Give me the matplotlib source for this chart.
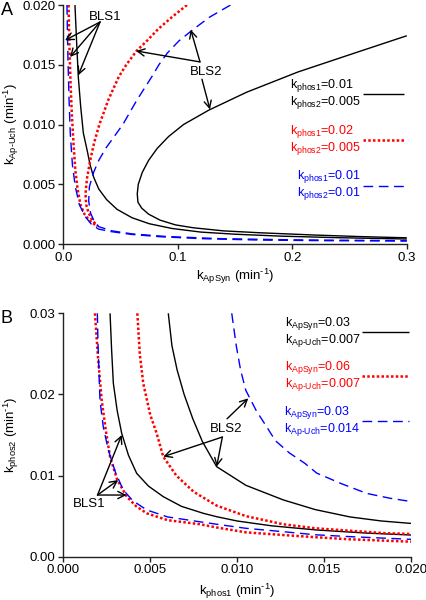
import matplotlib
matplotlib.use("Agg")
import matplotlib.pyplot as plt

plt.rcParams['font.family'] = ['Liberation Sans', 'DejaVu Sans']
plt.rcParams['mathtext.fontset'] = 'custom'
plt.rcParams['mathtext.rm'] = 'Liberation Sans'
plt.rcParams['mathtext.it'] = 'Liberation Sans:italic'
plt.rcParams['mathtext.bf'] = 'Liberation Sans:bold'
plt.rcParams['mathtext.sf'] = 'Liberation Sans'

# ---------------- Panel A data (x = kApSyn, y = kAp-Uch) ----------------
a_black_bls1_x = [0.0102, 0.0116, 0.0131, 0.0152, 0.0175, 0.0207, 0.0235, 0.0265, 0.0310, 0.0380,
                  0.0470, 0.0600, 0.0750, 0.0950, 0.1200, 0.1500, 0.1900, 0.2400, 0.3000]
a_black_bls1_y = [0.0200, 0.0170, 0.0140, 0.0115, 0.0093, 0.0079, 0.0066, 0.0056, 0.0046, 0.0037,
                  0.0029, 0.0022, 0.0017, 0.0013, 0.0010, 0.00082, 0.00066, 0.00053, 0.00042]
a_black_bls2_x = [0.300, 0.255, 0.205, 0.160, 0.127, 0.105, 0.092, 0.082, 0.0745, 0.0690, 0.0655,
                  0.0646, 0.0652, 0.0685, 0.0745, 0.0845, 0.0980, 0.1135, 0.1400, 0.1720, 0.2200,
                  0.2600, 0.3000]
a_black_bls2_y = [0.01743, 0.0160, 0.0144, 0.0127, 0.0112, 0.0100, 0.0090, 0.0080, 0.0070, 0.0060,
                  0.0050, 0.0042, 0.0035, 0.0030, 0.0025, 0.0020, 0.0016, 0.00136, 0.0011, 0.00094,
                  0.00075, 0.00062, 0.00052]
a_red_bls1_x = [0.0046, 0.0050, 0.0056, 0.0064, 0.0075, 0.0090, 0.0105, 0.0125, 0.0150, 0.0185,
                0.0225, 0.0265, 0.0300]
a_red_bls1_y = [0.0200, 0.0180, 0.0158, 0.0133, 0.0108, 0.0083, 0.0062, 0.0046, 0.0033, 0.0025,
                0.0020, 0.0017, 0.0015]
a_red_bls2_x = [0.1080, 0.0950, 0.0830, 0.0730, 0.0643, 0.0550, 0.0485, 0.0395, 0.0315, 0.0270,
                0.0235, 0.0207, 0.0194, 0.0200, 0.0221, 0.0260, 0.0300]
a_red_bls2_y = [0.0200, 0.0190, 0.0180, 0.0170, 0.0162, 0.0150, 0.0140, 0.0121, 0.0100, 0.0085,
                0.0070, 0.0055, 0.0042, 0.0033, 0.0026, 0.0019, 0.0015]
a_blue_bls1_x = [0.0032, 0.0036, 0.0041, 0.0050, 0.0061, 0.0080, 0.0105, 0.0140, 0.0192, 0.0250,
                 0.0308, 0.0410, 0.0600, 0.0846, 0.1200, 0.1720, 0.2300, 0.3000]
a_blue_bls1_y = [0.0200, 0.0178, 0.0154, 0.0122, 0.00926, 0.0066, 0.0048, 0.0033, 0.00229, 0.0016,
                 0.00125, 0.00105, 0.0008, 0.00061, 0.00045, 0.00033, 0.00028, 0.00025]
a_blue_bls2_x = [0.1460, 0.1280, 0.1140, 0.1010, 0.0910, 0.0835, 0.0773, 0.0640, 0.0520, 0.0370,
                 0.0310, 0.0265, 0.0228, 0.0222, 0.0238, 0.0270, 0.0310, 0.0425, 0.0600, 0.0900,
                 0.1370, 0.2000, 0.3000]
a_blue_bls2_y = [0.0200, 0.0190, 0.0180, 0.0170, 0.0160, 0.0150, 0.0140, 0.0120, 0.0100, 0.0080,
                 0.0070, 0.0060, 0.0048, 0.0036, 0.0026, 0.0019, 0.00145, 0.00110, 0.00085, 0.00063,
                 0.00045, 0.00035, 0.00028]

a_labels = ['k$_{\\mathrm{phos1}}$=0.01\nk$_{\\mathrm{phos2}}$=0.005',
            'k$_{\\mathrm{phos1}}$=0.02\nk$_{\\mathrm{phos2}}$=0.005',
            'k$_{\\mathrm{phos1}}$=0.01\nk$_{\\mathrm{phos2}}$=0.01']
a_xticks = [0.0, 0.1, 0.2, 0.3]
a_xticklabels = ['0.0', '0.1', '0.2', '0.3']
a_yticks = [0.000, 0.005, 0.010, 0.015, 0.020]
a_yticklabels = ['0.000', '0.005', '0.010', '0.015', '0.020']

# ---------------- Panel B data (x = kphos1, y = kphos2) ----------------
b_black_bls1_x = [0.00269, 0.00278, 0.00288, 0.00310, 0.00336, 0.00375, 0.00422, 0.00490, 0.00575,
                  0.00680, 0.00805, 0.00882, 0.01000, 0.01200, 0.01458, 0.01750, 0.02000]
b_black_bls1_y = [0.0300, 0.0255, 0.02137, 0.0180, 0.01521, 0.0125, 0.01028, 0.0087, 0.0074,
                  0.0062, 0.00535, 0.00493, 0.0044, 0.0038, 0.00329, 0.0029, 0.00267]
b_black_bls2_x = [0.00604, 0.00625, 0.00655, 0.00695, 0.00745, 0.00800, 0.00882, 0.01050, 0.01265,
                  0.01450, 0.01649, 0.01830, 0.02000]
b_black_bls2_y = [0.0300, 0.0260, 0.0230, 0.0200, 0.0170, 0.0142, 0.0111, 0.0088, 0.0070,
                  0.0058, 0.0049, 0.0044, 0.0041]
b_red_bls1_x = [0.00182, 0.00200, 0.00221, 0.00245, 0.00269, 0.00310, 0.00365, 0.00420, 0.00480,
                0.00600, 0.00786, 0.00882, 0.01050, 0.01265, 0.01450, 0.01649, 0.02000]
b_red_bls1_y = [0.0300, 0.0245, 0.0193, 0.0155, 0.01233, 0.0095, 0.0074, 0.0062, 0.00535,
                0.0045, 0.0040, 0.0036, 0.0030, 0.00267, 0.0024, 0.00214, 0.00185]
b_red_bls2_x = [0.00426, 0.00440, 0.00460, 0.00500, 0.00537, 0.00575, 0.00650, 0.00750, 0.00882,
                0.01050, 0.01265, 0.01450, 0.01649, 0.01850, 0.02000]
b_red_bls2_y = [0.0300, 0.0250, 0.02137, 0.0175, 0.01521, 0.01233, 0.0100, 0.0080, 0.0063,
                0.0050, 0.0040, 0.0035, 0.0032, 0.0029, 0.0028]
b_blue_bls1_x = [0.00196, 0.00200, 0.00211, 0.00230, 0.00259, 0.00300, 0.00345, 0.00400, 0.00480,
                 0.00600, 0.00786, 0.00882, 0.01050, 0.01265, 0.01450, 0.01649, 0.02000]
b_blue_bls1_y = [0.0300, 0.0260, 0.0193, 0.0160, 0.01315, 0.0104, 0.00822, 0.0069, 0.00576,
                 0.0049, 0.0043, 0.0040, 0.0035, 0.00308, 0.0027, 0.00247, 0.00214]
b_blue_bls2_x = [0.00969, 0.00995, 0.01020, 0.01050, 0.01110, 0.01170, 0.01220, 0.01300, 0.01390,
                 0.01458, 0.01600, 0.01745, 0.01880, 0.02000]
b_blue_bls2_y = [0.0300, 0.0260, 0.0230, 0.0205, 0.0180, 0.0160, 0.0143, 0.0128, 0.0115,
                 0.0103, 0.0090, 0.0078, 0.0072, 0.0068]

b_labels = ['k$_{\\mathrm{ApSyn}}$=0.03\nk$_{\\text{Ap-Uch}}$=0.007',
            'k$_{\\mathrm{ApSyn}}$=0.06\nk$_{\\text{Ap-Uch}}$=0.007',
            'k$_{\\mathrm{ApSyn}}$=0.03\nk$_{\\text{Ap-Uch}}$=0.014']
b_xticks = [0.000, 0.005, 0.010, 0.015, 0.020]
b_xticklabels = ['0.000', '0.005', '0.010', '0.015', '0.020']
b_yticks = [0.00, 0.01, 0.02, 0.03]
b_yticklabels = ['0.00', '0.01', '0.02', '0.03']

# ---------------- annotations (label text, tail, heads) ----------------
a_bls1_text = (0.0365, 0.0190)
a_bls1_tail = (0.0321, 0.01858)
a_bls1_heads = [(0.0015, 0.01705), (0.0059, 0.01565), (0.0131, 0.01412)]
a_bls2_text = (0.1250, 0.01440)
a_bls2_tail = (0.1194, 0.01524)
a_bls2_heads = [(0.0635, 0.01616), (0.1113, 0.01794)]
a_bls2_tail2 = (0.1211, 0.01379)
a_bls2_head2 = (0.1281, 0.01126)

b_bls1_text = (0.00148, 0.0065)
b_bls1_tail = (0.00197, 0.0076)
b_bls1_heads = [(0.00336, 0.0150), (0.00316, 0.00945), (0.00364, 0.0076)]
b_bls2_text = (0.00936, 0.01574)
b_bls2_tail_up = (0.00942, 0.0170)
b_bls2_head_up = (0.01064, 0.01952)
b_bls2_tail = (0.00915, 0.01475)
b_bls2_heads = [(0.00575, 0.01233), (0.00882, 0.01109)]

BLACK = '#000000'
RED = '#ff0000'
BLUE = '#0000ff'
FS = 9.5
LFS = 9.0

fig = plt.figure(figsize=(4.27, 6.0), dpi=100)
axA = fig.add_axes([0.1482, 0.5933, 0.8045, 0.3983])
axB = fig.add_axes([0.1482, 0.0722, 0.8143, 0.4056])

kw_black = dict(color=BLACK, lw=1.0, solid_capstyle='butt')
kw_red = dict(color=RED, lw=1.8, linestyle=(0, (1, 0.9)))
kw_blue = dict(color=BLUE, lw=1.0, linestyle=(0, (7, 4)))


def style(ax):
    for s in ['top', 'right']:
        ax.spines[s].set_visible(False)
    for s in ['left', 'bottom']:
        ax.spines[s].set_linewidth(1.0)
        ax.spines[s].set_color('#222222')
    ax.tick_params(direction='out', length=3.5, width=1.0, color='#222222',
                   labelsize=FS, pad=2)


def arrow(ax, tail, head):
    ax.annotate('', xy=head, xytext=tail,
                arrowprops=dict(arrowstyle='->', color='black', lw=1.0,
                                shrinkA=0, shrinkB=0, mutation_scale=13))


def legend(ax, handles, labels, anchor, hl, pad, spacing):
    leg = ax.legend(handles, labels, loc='upper right', bbox_to_anchor=anchor,
                    frameon=False, markerfirst=False, fontsize=LFS,
                    handlelength=hl, handletextpad=pad, labelspacing=spacing,
                    borderpad=0, borderaxespad=0, labelcolor='linecolor')
    for t in leg.get_texts():
        t.set_linespacing(1.0)
    return leg


# ---- Panel A ----
lA1, = axA.plot(a_black_bls1_x, a_black_bls1_y, **kw_black)
axA.plot(a_black_bls2_x, a_black_bls2_y, **kw_black)
lA2, = axA.plot(a_red_bls1_x, a_red_bls1_y, **kw_red)
axA.plot(a_red_bls2_x, a_red_bls2_y, **kw_red)
lA3, = axA.plot(a_blue_bls1_x, a_blue_bls1_y, **kw_blue)
axA.plot(a_blue_bls2_x, a_blue_bls2_y, **kw_blue)
axA.set_xlim(0, 0.3)
axA.set_ylim(0, 0.02)
axA.set_xticks(a_xticks)
axA.set_xticklabels(a_xticklabels)
axA.set_yticks(a_yticks)
axA.set_yticklabels(a_yticklabels)
style(axA)
axA.set_xlabel('k$_{\\mathrm{ApSyn}}$ (min$^{\\text{-1}}$)', fontsize=FS)
axA.set_ylabel('k$_{\\text{Ap-Uch}}$ (min$^{\\text{-1}}$)', fontsize=FS)
axA.xaxis.set_label_coords(0.5, -0.095)
axA.yaxis.set_label_coords(-0.122, 0.5)

axA.text(*a_bls1_text, 'BLS1', fontsize=FS, ha='center', va='center')
for h in a_bls1_heads:
    arrow(axA, a_bls1_tail, h)
axA.text(*a_bls2_text, 'BLS2', fontsize=FS, ha='center', va='center')
for h in a_bls2_heads:
    arrow(axA, a_bls2_tail, h)
arrow(axA, a_bls2_tail2, a_bls2_head2)

legend(axA, [lA1, lA2, lA3], a_labels, (0.992, 0.70), 3.3, 0.15, 0.95)

# ---- Panel B ----
lB1, = axB.plot(b_black_bls1_x, b_black_bls1_y, **kw_black)
axB.plot(b_black_bls2_x, b_black_bls2_y, **kw_black)
lB2, = axB.plot(b_red_bls1_x, b_red_bls1_y, **kw_red)
axB.plot(b_red_bls2_x, b_red_bls2_y, **kw_red)
lB3, = axB.plot(b_blue_bls1_x, b_blue_bls1_y, **kw_blue)
axB.plot(b_blue_bls2_x, b_blue_bls2_y, **kw_blue)
axB.set_xlim(0, 0.02)
axB.set_ylim(0, 0.03)
axB.set_xticks(b_xticks)
axB.set_xticklabels(b_xticklabels)
axB.set_yticks(b_yticks)
axB.set_yticklabels(b_yticklabels)
style(axB)
axB.set_xlabel('k$_{\\mathrm{phos1}}$ (min$^{\\text{-1}}$)', fontsize=FS)
axB.set_ylabel('k$_{\\mathrm{phos2}}$ (min$^{\\text{-1}}$)', fontsize=FS)
axB.xaxis.set_label_coords(0.5, -0.104)
axB.yaxis.set_label_coords(-0.121, 0.5)

axB.text(*b_bls1_text, 'BLS1', fontsize=FS, ha='center', va='center')
for h in b_bls1_heads:
    arrow(axB, b_bls1_tail, h)
axB.text(*b_bls2_text, 'BLS2', fontsize=FS, ha='center', va='center')
arrow(axB, b_bls2_tail_up, b_bls2_head_up)
for h in b_bls2_heads:
    arrow(axB, b_bls2_tail, h)

legend(axB, [lB1, lB2, lB3], b_labels, (0.995, 0.995), 3.8, 0.1, 0.85)

fig.text(0.002, 0.997, 'A', fontsize=13, ha='left', va='top')
fig.text(0.002, 0.484, 'B', fontsize=13, ha='left', va='top')

fig.savefig('out.png', dpi=100)
